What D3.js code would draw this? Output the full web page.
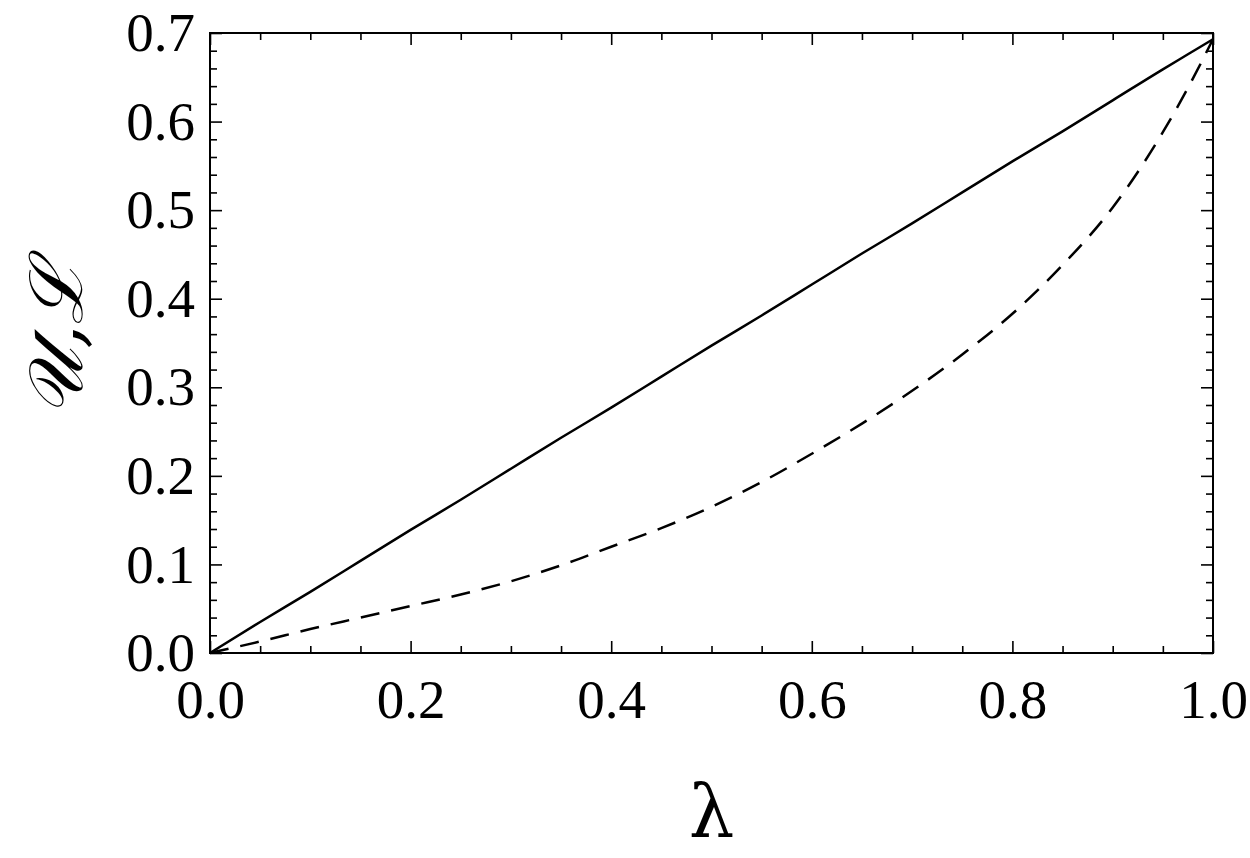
<!DOCTYPE html>
<html>
<head>
<meta charset="utf-8">
<script src="https://cdn.jsdelivr.net/npm/d3@7"></script>
<style>
  body { margin: 0; background: #fff; }
  .axis text { font-family: "Liberation Serif", "DejaVu Serif", serif; font-size: 55px; fill: #000; }
  .axis line { stroke: #000; stroke-width: 1.6; }
  .axis path { display: none; }
</style>
</head>
<body>
<div id="chart"></div>
<script>
// lambda samples
const lambda = [0, 0.05, 0.1, 0.15, 0.2, 0.25, 0.3, 0.35, 0.4, 0.45, 0.5,
  0.55, 0.6, 0.65, 0.7, 0.75, 0.8, 0.85, 0.9, 0.95, 0.975, 1];
// solid curve (U)
const upper = [0, 0.035, 0.069, 0.104, 0.139, 0.173, 0.208, 0.243, 0.277, 0.312, 0.347,
  0.381, 0.416, 0.451, 0.485, 0.520, 0.555, 0.589, 0.624, 0.659, 0.676, 0.693];
// dashed curve (L)
const lower = [0, 0.013, 0.027, 0.040, 0.053, 0.066, 0.081, 0.099, 0.120, 0.141, 0.165,
  0.193, 0.225, 0.259, 0.296, 0.337, 0.383, 0.438, 0.503, 0.588, 0.638, 0.693];

const xTicks = [0, 0.2, 0.4, 0.6, 0.8, 1.0];
const yTicks = [0, 0.1, 0.2, 0.3, 0.4, 0.5, 0.6, 0.7];

const W = 1250, H = 858;
const margin = { top: 33, right: 37, bottom: 205, left: 210 };
const width = W - margin.left - margin.right;
const height = H - margin.top - margin.bottom;

const x = d3.scaleLinear().domain([0, 1]).range([0, width]);
const y = d3.scaleLinear().domain([0, 0.7]).range([height, 0]);

const svg = d3.select("#chart").append("svg")
  .attr("width", W)
  .attr("height", H);

const g = svg.append("g")
  .attr("transform", "translate(" + margin.left + "," + margin.top + ")");

// minor ticks (no labels)
const xMinor = d3.range(0, 1.0001, 0.05).filter(v => Math.abs(v * 5 - Math.round(v * 5)) > 1e-6);
const yMinor = d3.range(0, 0.7001, 0.02).filter(v => Math.abs(v * 10 - Math.round(v * 10)) > 1e-6);

const minorX = (axis) => axis.tickValues(xMinor).tickSize(-7).tickFormat("");
const minorY = (axis) => axis.tickValues(yMinor).tickSize(-7).tickFormat("");

g.append("g").attr("class", "axis").attr("transform", "translate(0," + height + ")")
  .call(minorX(d3.axisBottom(x)));
g.append("g").attr("class", "axis")
  .call(minorX(d3.axisTop(x)));
g.append("g").attr("class", "axis")
  .call(minorY(d3.axisLeft(y)));
g.append("g").attr("class", "axis").attr("transform", "translate(" + width + ",0)")
  .call(minorY(d3.axisRight(y)));

// major ticks
g.append("g").attr("class", "axis").attr("transform", "translate(0," + height + ")")
  .call(d3.axisBottom(x).tickValues(xTicks).tickSize(-12).tickPadding(26).tickFormat(d3.format(".1f")));
g.append("g").attr("class", "axis")
  .call(d3.axisTop(x).tickValues(xTicks).tickSize(-12).tickFormat(""));
g.append("g").attr("class", "axis")
  .call(d3.axisLeft(y).tickValues(yTicks).tickSize(-12).tickPadding(15).tickFormat(d3.format(".1f")));
g.append("g").attr("class", "axis").attr("transform", "translate(" + width + ",0)")
  .call(d3.axisRight(y).tickValues(yTicks).tickSize(-12).tickFormat(""));

// frame
g.append("rect")
  .attr("width", width)
  .attr("height", height)
  .attr("fill", "none")
  .attr("stroke", "#000")
  .attr("stroke-width", 2);

const line = (vals) => d3.line()
  .x((d, i) => x(lambda[i]))
  .y(d => y(d))
  .curve(d3.curveMonotoneX)(vals);

g.append("path")
  .attr("d", line(upper))
  .attr("fill", "none")
  .attr("stroke", "#000")
  .attr("stroke-width", 2.5);

g.append("path")
  .attr("d", line(lower))
  .attr("fill", "none")
  .attr("stroke", "#000")
  .attr("stroke-width", 2.5)
  .attr("stroke-dasharray", "19,12");

// axis titles
svg.append("text")
  .attr("x", margin.left + width / 2)
  .attr("y", 837)
  .attr("text-anchor", "middle")
  .style("font-family", "'DejaVu Serif', 'Liberation Serif', serif")
  .style("font-size", "72px")
  .text("λ");

svg.append("text")
  .attr("transform", "translate(82," + (margin.top + height / 2) + ") rotate(-90)")
  .attr("text-anchor", "middle")
  .style("font-family", "'DejaVu Serif', 'Liberation Serif', serif")
  .style("font-size", "76px")
  .style("font-style", "italic")
  .text("𝒰,ℒ");
</script>
</body>
</html>
